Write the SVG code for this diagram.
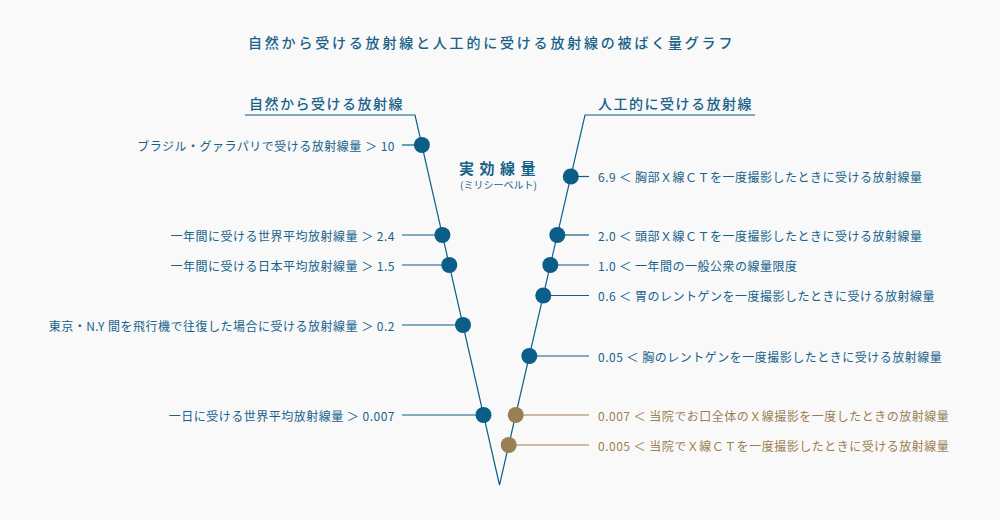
<svg xmlns="http://www.w3.org/2000/svg" width="1000" height="520" viewBox="0 0 1000 520">
  <style>
    text { font-family: "Noto Sans CJK JP", "Noto Sans", sans-serif; dominant-baseline: central; }
    .t { font-size: 14px; letter-spacing: 2.8px; fill: #17628a; font-weight: 500; }
    .h { font-size: 14px; letter-spacing: 1.5px; fill: #17628a; font-weight: 500; }
    .u { font-size: 15px; letter-spacing: 5.5px; fill: #17628a; font-weight: 700; }
    .us { font-size: 10px; fill: #17628a; }
    .lb { font-size: 12px; letter-spacing: 0.5px; fill: #17628a; }
    .lbb { font-size: 12px; letter-spacing: 0.5px; fill: #9a7f52; }
    .ln { stroke: #0d5f8a; stroke-width: 1.2; fill: none; }
    .lnb { stroke: #9a7f52; stroke-width: 1.2; fill: none; }
    .c { fill: #0b5e88; }
    .cb { fill: #9a7f52; }
  </style>
  <rect x="0" y="0" width="1000" height="520" fill="#f9f9f9"/>

  <g id="title">
    <text class="t" x="248" y="42">自然から受ける放射線と人工的に受ける放射線の被ばく量グラフ</text>
  </g>
  <g id="unit">
    <text class="u" x="459" y="167">実効線量</text>
    <text class="us" x="460" y="184">(ミリシーベルト)</text>
  </g>

  <g id="connectors">
    <polyline class="ln" points="245,115 415,115 499.5,485 585,115 755,115"/>
    <line class="ln" x1="402" y1="145" x2="421.9" y2="145"/>
    <line class="ln" x1="402" y1="235" x2="442.4" y2="235"/>
    <line class="ln" x1="402" y1="265" x2="449.3" y2="265"/>
    <line class="ln" x1="402" y1="325" x2="463" y2="325"/>
    <line class="ln" x1="402" y1="415" x2="483.5" y2="415"/>
    <line class="ln" x1="570.8" y1="176.5" x2="589" y2="176.5"/>
    <line class="ln" x1="557.3" y1="235" x2="589" y2="235"/>
    <line class="ln" x1="550.3" y1="265" x2="589" y2="265"/>
    <line class="ln" x1="543.3" y1="295.5" x2="589" y2="295.5"/>
    <line class="ln" x1="529.3" y1="356" x2="589" y2="356"/>
    <line class="lnb" x1="515.7" y1="415" x2="589" y2="415"/>
    <line class="lnb" x1="508.7" y1="445" x2="589" y2="445"/>
  </g>

  <g id="header-natural">
    <text class="h" x="249" y="102.5">自然から受ける放射線</text>
  </g>
  <g id="header-artificial">
    <text class="h" x="598" y="102.5">人工的に受ける放射線</text>
  </g>

  <g id="n-brazil">
    <circle class="c" cx="421.9" cy="145" r="8"/>
    <text class="lb" x="395" y="145" text-anchor="end">ブラジル・グァラパリで受ける放射線量 ＞ 10</text>
  </g>
  <g id="n-world-year">
    <circle class="c" cx="442.4" cy="235" r="8"/>
    <text class="lb" x="395" y="235" text-anchor="end">一年間に受ける世界平均放射線量 ＞ 2.4</text>
  </g>
  <g id="n-japan-year">
    <circle class="c" cx="449.3" cy="265" r="8"/>
    <text class="lb" x="395" y="265" text-anchor="end">一年間に受ける日本平均放射線量 ＞ 1.5</text>
  </g>
  <g id="n-flight">
    <circle class="c" cx="463" cy="325" r="8"/>
    <text class="lb" x="395" y="325" text-anchor="end">東京・N.Y 間を飛行機で往復した場合に受ける放射線量 ＞ 0.2</text>
  </g>
  <g id="n-world-day">
    <circle class="c" cx="483.5" cy="415" r="8"/>
    <text class="lb" x="395" y="415" text-anchor="end">一日に受ける世界平均放射線量 ＞ 0.007</text>
  </g>

  <g id="n-chest-ct">
    <circle class="c" cx="570.8" cy="176.5" r="8"/>
    <text class="lb" x="598" y="176.5">6.9 ＜ 胸部Ｘ線ＣＴを一度撮影したときに受ける放射線量</text>
  </g>
  <g id="n-head-ct">
    <circle class="c" cx="557.3" cy="235" r="8"/>
    <text class="lb" x="598" y="235">2.0 ＜ 頭部Ｘ線ＣＴを一度撮影したときに受ける放射線量</text>
  </g>
  <g id="n-public-limit">
    <circle class="c" cx="550.3" cy="265" r="8"/>
    <text class="lb" x="598" y="265">1.0 ＜ 一年間の一般公衆の線量限度</text>
  </g>
  <g id="n-stomach">
    <circle class="c" cx="543.3" cy="295.5" r="8"/>
    <text class="lb" x="598" y="295.5">0.6 ＜ 胃のレントゲンを一度撮影したときに受ける放射線量</text>
  </g>
  <g id="n-chest-xray">
    <circle class="c" cx="529.3" cy="356" r="8"/>
    <text class="lb" x="598" y="356">0.05 ＜ 胸のレントゲンを一度撮影したときに受ける放射線量</text>
  </g>
  <g id="n-clinic-mouth">
    <circle class="cb" cx="515.7" cy="415" r="8"/>
    <text class="lbb" x="598" y="415">0.007 ＜ 当院でお口全体のＸ線撮影を一度したときの放射線量</text>
  </g>
  <g id="n-clinic-ct">
    <circle class="cb" cx="508.7" cy="445" r="8"/>
    <text class="lbb" x="598" y="445">0.005 ＜ 当院でＸ線ＣＴを一度撮影したときに受ける放射線量</text>
  </g>
</svg>
